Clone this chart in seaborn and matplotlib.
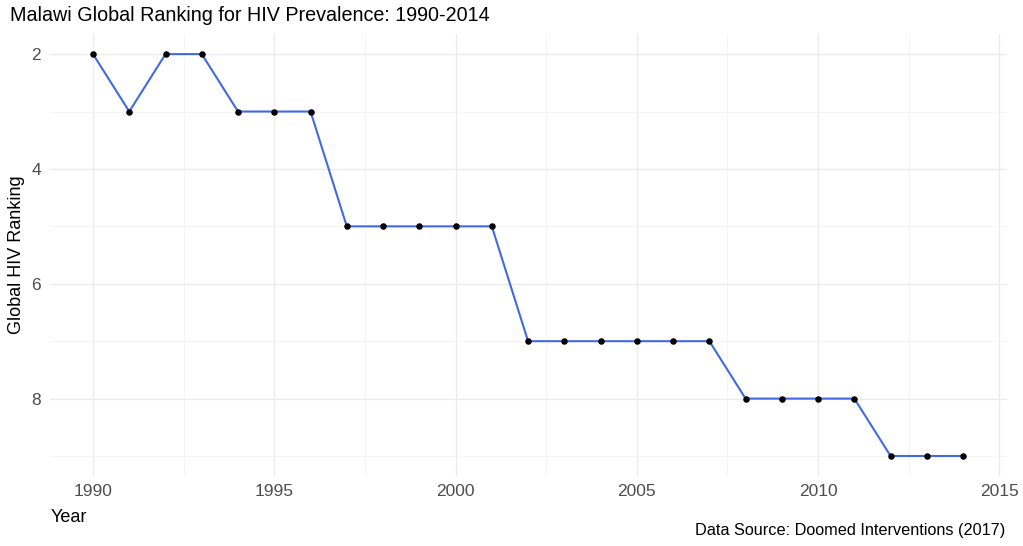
import matplotlib
matplotlib.use("Agg")
import matplotlib.pyplot as plt
import seaborn as sns
import pandas as pd
from matplotlib.ticker import MultipleLocator

years = list(range(1990, 2015))
ranking = [2, 3, 2, 2, 3, 3, 3, 5, 5, 5, 5, 5, 7, 7, 7, 7, 7, 7, 8, 8, 8, 8, 9, 9, 9]
x_ticks = [1990, 1995, 2000, 2005, 2010, 2015]
y_ticks = [2, 4, 6, 8]

df = pd.DataFrame({"Year": years, "Rank": ranking})

sns.set_theme(style="whitegrid")
plt.rcParams['font.family'] = ['Liberation Sans', 'DejaVu Sans']

fig = plt.figure(figsize=(10.23, 5.46), dpi=100)
ax_bottom, ax_top = 0.128, 0.9377
ax = fig.add_axes([0.0484, ax_bottom, 0.984 - 0.0484, ax_top - ax_bottom])

sns.lineplot(data=df, x="Year", y="Rank", color="#4169E1", linewidth=1.5, ax=ax, zorder=3)
sns.scatterplot(data=df, x="Year", y="Rank", color="black", s=22, edgecolor="black", linewidth=0, ax=ax, zorder=4)

ax.set_xlim(1988.8, 2015.2)
ax.set_ylim(9.35, 1.65)
ax.set_xticks(x_ticks)
ax.set_yticks(y_ticks)
ax.xaxis.set_minor_locator(MultipleLocator(2.5))
ax.yaxis.set_minor_locator(MultipleLocator(1))
ax.grid(which="major", color="#EBEBEB", linewidth=1.0)
ax.grid(which="minor", color="#F3F3F3", linewidth=0.6)
ax.tick_params(axis="both", which="both", length=0, labelsize=12.5, labelcolor="#4D4D4D")
ax.tick_params(axis="x", pad=6)
ax.tick_params(axis="y", pad=6)
for s in ax.spines.values():
    s.set_visible(False)
ax.set_facecolor("white")
ax.set_xlabel("")
ax.set_ylabel("")

fig.text(0.0166, 0.5 * (ax_bottom + ax_top), "Global HIV Ranking", fontsize=13, rotation=90,
         ha="center", va="center", color="black")
fig.text(0.0495, 0.052, "Year", fontsize=13, ha="left", va="center", color="black")
fig.text(0.01, 0.972, "Malawi Global Ranking for HIV Prevalence: 1990-2014", fontsize=14.2,
         ha="left", va="center", color="black")
fig.text(0.983, 0.028, "Data Source: Doomed Interventions (2017)", fontsize=11.7,
         ha="right", va="center", color="black")

fig.savefig("out.png", dpi=100, facecolor="white")
